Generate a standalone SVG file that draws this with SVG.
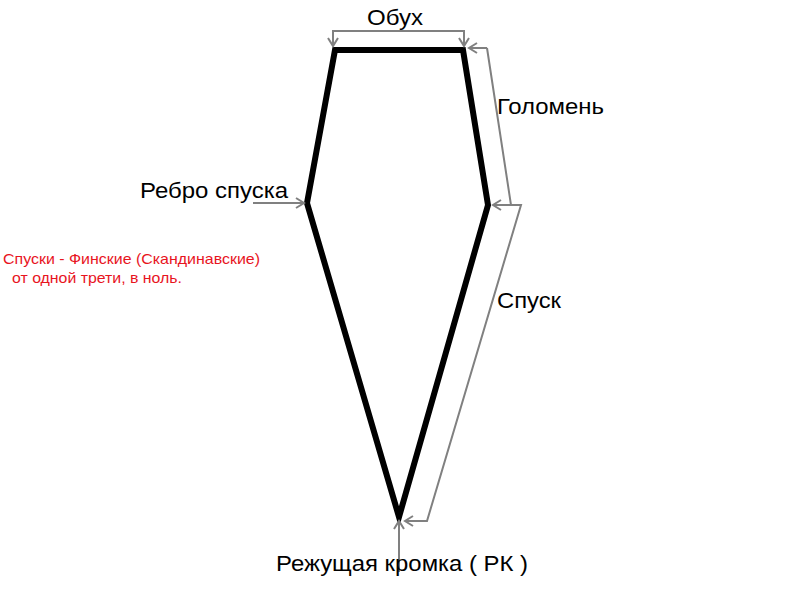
<svg xmlns="http://www.w3.org/2000/svg" width="800" height="600" viewBox="0 0 800 600">
<style>
.lbl{font-family:"Liberation Sans",Arial,sans-serif;font-size:22px;fill:#000}
.note{font-family:"Liberation Sans",Arial,sans-serif;font-size:15px;fill:#e8141e}
.conn{fill:none;stroke:#808080;stroke-width:2}
</style>
<defs>
<marker id="ah" markerWidth="12" markerHeight="12" refX="10" refY="6" orient="auto" markerUnits="userSpaceOnUse">
<path d="M2,1 L10,6 L2,11" fill="none" stroke="#808080" stroke-width="2"/>
</marker>
</defs>
<rect width="800" height="600" fill="#fff"/>
<g id="blade">
<polygon points="335,50 463,50 488,205 399,517 307,203" fill="none" stroke="#000" stroke-width="6" stroke-linejoin="miter"/>
</g>
<g id="connectors">
<path class="conn" d="M394,31 H333 V46" marker-end="url(#ah)"/>
<path class="conn" d="M394,31 H464 V46" marker-end="url(#ah)"/>
<path class="conn" d="M487,48 H469" marker-end="url(#ah)"/>
<path class="conn" d="M487,48 L511,205 H493" marker-end="url(#ah)"/>
<path class="conn" d="M511,205 H521 L427,521 H405" marker-end="url(#ah)"/>
<path class="conn" d="M399,572 V521" marker-end="url(#ah)"/>
<path class="conn" d="M253,203 H304" marker-end="url(#ah)"/>
</g>
<g id="label-obuh"><text class="lbl" x="367" y="25" textLength="56" lengthAdjust="spacingAndGlyphs">Обух</text></g>
<g id="label-golomen"><text class="lbl" x="497" y="114" textLength="107" lengthAdjust="spacingAndGlyphs">Голомень</text></g>
<g id="label-rebro"><text class="lbl" x="140" y="198" textLength="148" lengthAdjust="spacingAndGlyphs">Ребро спуска</text></g>
<g id="label-spusk"><text class="lbl" x="497" y="308" textLength="64" lengthAdjust="spacingAndGlyphs">Спуск</text></g>
<g id="label-rk"><text class="lbl" x="276" y="571" textLength="252" lengthAdjust="spacingAndGlyphs">Режущая кромка ( РК )</text></g>
<g id="note">
<text class="note" x="3" y="264" textLength="257" lengthAdjust="spacingAndGlyphs">Спуски - Финские (Скандинавские)</text>
<text class="note" x="12" y="283" textLength="170" lengthAdjust="spacingAndGlyphs">от одной трети, в ноль.</text>
</g>
</svg>
